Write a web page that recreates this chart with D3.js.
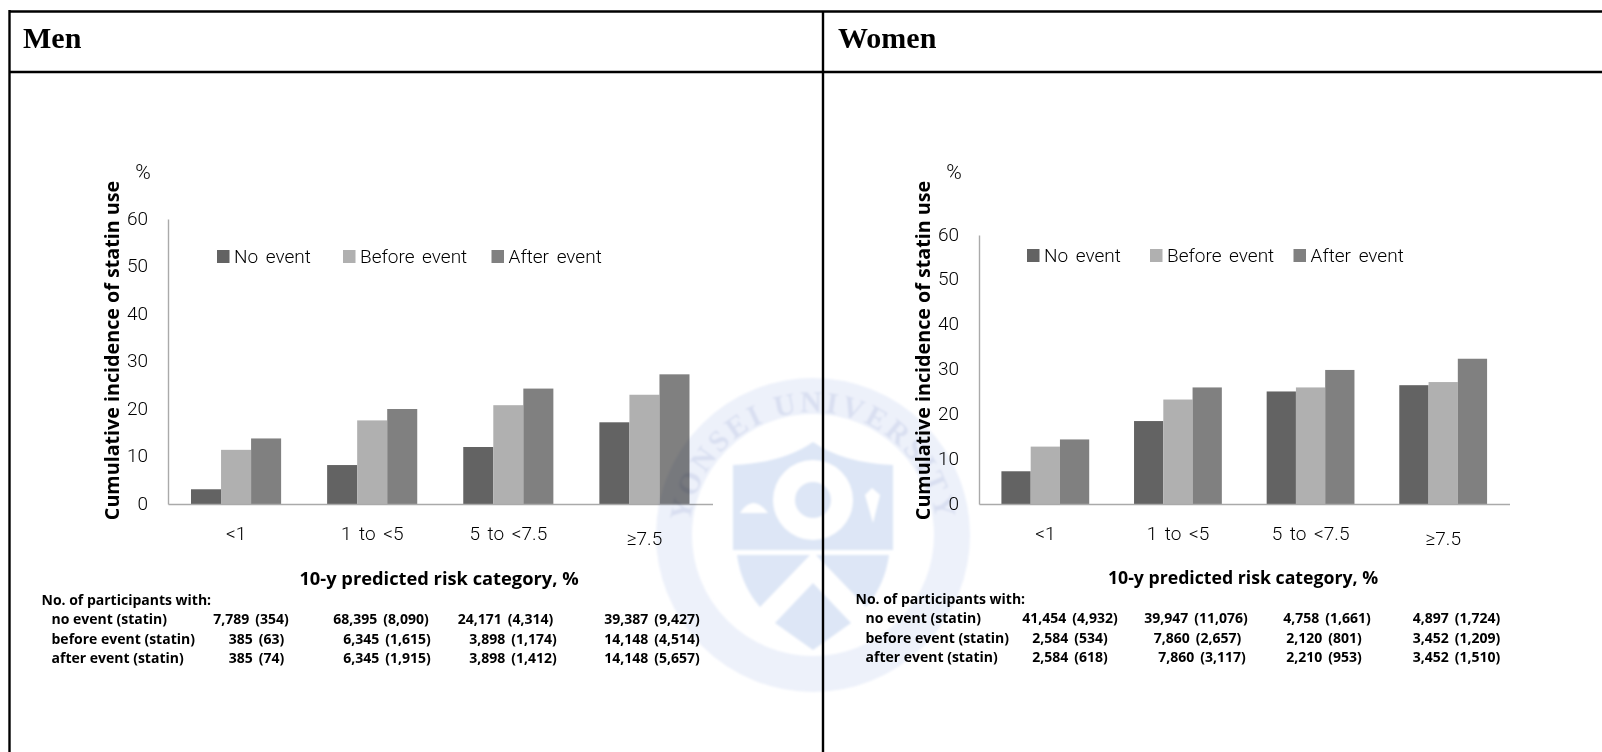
<!DOCTYPE html>
<html>
<head>
<meta charset="utf-8">
<script src="https://cdn.jsdelivr.net/npm/d3@7"></script>
<style>
  html, body { margin: 0; padding: 0; background: #fff; }
  svg { display: block; }
  text { font-family: "Open Sans", "Noto Sans", sans-serif; fill: #222; }
  .panel-title { font-family: "Liberation Serif", serif; font-weight: bold; font-size: 30px; fill: #000; }
  .axis-label { font-weight: bold; font-size: 18.3px; fill: #000; }
  .y-label { font-size: 19.7px; }
  .table-text { font-weight: bold; font-size: 14px; fill: #000; }
  .table-cell { word-spacing: 2.5px; }
  .light { font-family: Roboto, sans-serif; font-weight: 300; font-size: 19px; fill: #000; word-spacing: 3px; }
</style>
</head>
<body>
<svg id="chart" width="1602" height="752"></svg>
<script>
// data
const categories = ["<1", "1 to <5", "5 to <7.5", "≥7.5"];
const seriesNames = ["No event", "Before event", "After event"];
const yTicks = [0, 10, 20, 30, 40, 50, 60];

const menNoEvent = [3.1, 8.2, 12, 17.2];
const menBefore = [11.4, 17.6, 20.8, 23];
const menAfter = [13.8, 20, 24.3, 27.3];

const womenNoEvent = [7.3, 18.5, 25.1, 26.5];
const womenBefore = [12.8, 23.3, 26, 27.2];
const womenAfter = [14.4, 26, 29.9, 32.4];

const tableHeader = "No. of participants with:";
const rowLabels = ["no event (statin)", "before event (statin)", "after event (statin)"];
const menCells = [
    ["7,789 (354)", "68,395 (8,090)", "24,171 (4,314)", "39,387 (9,427)"],
    ["385 (63)", "6,345 (1,615)", "3,898 (1,174)", "14,148 (4,514)"],
    ["385 (74)", "6,345 (1,915)", "3,898 (1,412)", "14,148 (5,657)"]
];
const womenCells = [
    ["41,454 (4,932)", "39,947 (11,076)", "4,758 (1,661)", "4,897 (1,724)"],
    ["2,584 (534)", "7,860 (2,657)", "2,120 (801)", "3,452 (1,209)"],
    ["2,584 (618)", "7,860 (3,117)", "2,210 (953)", "3,452 (1,510)"]
];

const barColors = ["#636363", "#b0b0b0", "#808080"];
const svg = d3.select("#chart");

// pale university seal, multiplied over everything so the bar under it darkens
function drawSeal() {
    const sealFill = "#dde6f6";
    const seal = svg.append("g")
        .attr("transform", "translate(813, 535)")
        .style("mix-blend-mode", "multiply")
        .attr("filter", "url(#sealBlur)");

    const defs = svg.append("defs");
    defs.append("filter").attr("id", "sealBlur")
        .append("feGaussianBlur").attr("stdDeviation", 1.2);

    seal.append("circle").attr("r", 139).attr("fill", "none").attr("stroke", "#edf1fa").attr("stroke-width", 36);
    seal.append("path").attr("d", "M-80,-70 Q-30,-72 0,-93 Q30,-72 80,-70 L80,15 L-80,15 Z").attr("fill", sealFill);
    seal.append("path").attr("d", "M-76,20 L-3,20 L-53,72 Q-72,50 -76,20 Z").attr("fill", sealFill);
    seal.append("path").attr("d", "M76,20 L3,20 L53,72 Q72,50 76,20 Z").attr("fill", sealFill);
    seal.append("path").attr("d", "M0,48 L38,88 L0,115 L-38,88 Z").attr("fill", sealFill);
    // white marks on the shield
    seal.append("circle").attr("r", 40).attr("cy", -35).attr("fill", "#fff");
    seal.append("circle").attr("r", 18).attr("cy", -35).attr("fill", sealFill);
    seal.append("path").attr("d", "M-73,-22 Q-60,-42 -45,-22 L-45,-22 L-45,-22 Z").attr("fill", "#fff");
    seal.append("path").attr("d", "M59,-47 L67,-40 L60,-12 L52,-40 Z").attr("fill", "#fff");

    seal.append("path").attr("id", "sealArc").attr("d", "M-121,28 A124,124 0 1 1 121,28").attr("fill", "none");
    seal.append("text")
        .style("font-family", '"Liberation Serif", serif')
        .style("font-weight", "bold").style("font-size", "30px").style("fill", "#d9dff1")
        .style("letter-spacing", "3px")
        .append("textPath").attr("href", "#sealArc").attr("startOffset", "50%").attr("text-anchor", "middle")
        .text("YONSEI UNIVERSITY");
}

function drawPanel(p) {
    const g = svg.append("g");

    g.append("text").attr("class", "panel-title")
        .attr("x", p.titleX).attr("y", 48).text(p.title);

    const x = d3.scaleBand().domain(categories).range([p.left, p.right]);
    const y = d3.scaleLinear().domain([0, 60]).range([504, p.top]);
    const groupWidth = x.bandwidth() * 0.662;
    const x1 = d3.scaleBand().domain(seriesNames)
        .range([(x.bandwidth() - groupWidth) / 2, (x.bandwidth() + groupWidth) / 2]);

    // bars
    p.series.forEach((values, i) => {
        g.append("g").selectAll("rect")
            .data(values)
            .enter()
            .append("rect")
            .attr("x", (d, j) => x(categories[j]) + x1(seriesNames[i]))
            .attr("y", d => y(d))
            .attr("width", x1.bandwidth())
            .attr("height", d => y(0) - y(d))
            .attr("fill", barColors[i]);
    });

    // axes
    const yAxis = g.append("g")
        .attr("transform", `translate(${p.left}, 0)`)
        .call(d3.axisLeft(y).tickValues(yTicks).tickSize(0).tickPadding(20));
    yAxis.select(".domain").attr("stroke", "#aaa").attr("stroke-width", 1.4);
    yAxis.selectAll("text").attr("class", "light").attr("dy", "0.27em");

    const xAxis = g.append("g")
        .attr("transform", "translate(0, 504)")
        .call(d3.axisBottom(x).tickSize(0).tickPadding(23));
    xAxis.select(".domain").attr("stroke", "#aaa").attr("stroke-width", 1.4);
    xAxis.selectAll("text").attr("class", "light");
    xAxis.selectAll("text").filter(d => d === "≥7.5").attr("dy", "0.97em");

    // labels
    g.append("text").attr("class", "light").attr("x", p.percentX).attr("y", 179)
        .attr("text-anchor", "middle").style("font-size", "21px").text("%");

    g.append("text").attr("class", "axis-label y-label")
        .attr("text-anchor", "middle")
        .attr("transform", `translate(${p.yLabelX}, 350.5) rotate(-90)`)
        .text("Cumulative incidence of statin use");

    g.append("text").attr("class", "axis-label")
        .attr("text-anchor", "middle")
        .style("font-size", p.xLabelSize)
        .attr("x", p.xLabelX).attr("y", p.xLabelY)
        .text("10-y predicted risk category, %");

    // legend
    seriesNames.forEach((name, i) => {
        g.append("rect").attr("x", p.legendX[i]).attr("y", p.legendY)
            .attr("width", 12.5).attr("height", 13).attr("fill", barColors[i]);
        g.append("text").attr("class", "light").attr("x", p.legendX[i] + 17).attr("y", p.legendY + 13)
            .text(name);
    });

    // participant table
    g.append("text").attr("class", "table-text")
        .attr("x", p.tableX).attr("y", p.tableY).text(tableHeader);
    rowLabels.forEach((label, r) => {
        const rowY = p.tableY + 19.3 * (r + 1);
        g.append("text").attr("class", "table-text")
            .attr("x", p.tableX + 10).attr("y", rowY).text(label);
        g.append("g").selectAll("text")
            .data(p.cells[r])
            .enter()
            .append("text")
            .attr("class", "table-text table-cell")
            .attr("text-anchor", "middle")
            .attr("x", (d, c) => p.cellX[r][c])
            .attr("y", rowY)
            .text(d => d);
    });
}

drawPanel({
    title: "Men", titleX: 23, left: 168, right: 712.5, top: 219,
    series: [menNoEvent, menBefore, menAfter],
    percentX: 143, yLabelX: 119, xLabelX: 439, xLabelY: 585, xLabelSize: "18.3px",
    legendX: [217, 343, 491.5], legendY: 250,
    tableX: 41.5, tableY: 605,
    cells: menCells,
    cellX: [[251, 381, 505.5, 652], [256.5, 387, 513, 652], [256.5, 387, 513, 652]]
});

drawPanel({
    title: "Women", titleX: 838, left: 979, right: 1509.5, top: 235,
    series: [womenNoEvent, womenBefore, womenAfter],
    percentX: 954, yLabelX: 930, xLabelX: 1243, xLabelY: 584, xLabelSize: "17.7px",
    legendX: [1027, 1150, 1293.5], legendY: 249,
    tableX: 855.5, tableY: 604,
    cells: womenCells,
    cellX: [[1070, 1196, 1327, 1456.5], [1070, 1197.5, 1324, 1456.5], [1070, 1202, 1324, 1456.5]]
});

drawSeal();

// frame
const frameLines = [[9.5, 11.5, 1602, 11.5], [9.5, 72, 1602, 72], [9.5, 10, 9.5, 752], [823, 11, 823, 752]];
svg.selectAll("line.frame").data(frameLines).enter().append("line")
    .attr("class", "frame")
    .attr("x1", d => d[0]).attr("y1", d => d[1])
    .attr("x2", d => d[2]).attr("y2", d => d[3])
    .attr("stroke", "#000").attr("stroke-width", 2.4);
</script>
</body>
</html>
